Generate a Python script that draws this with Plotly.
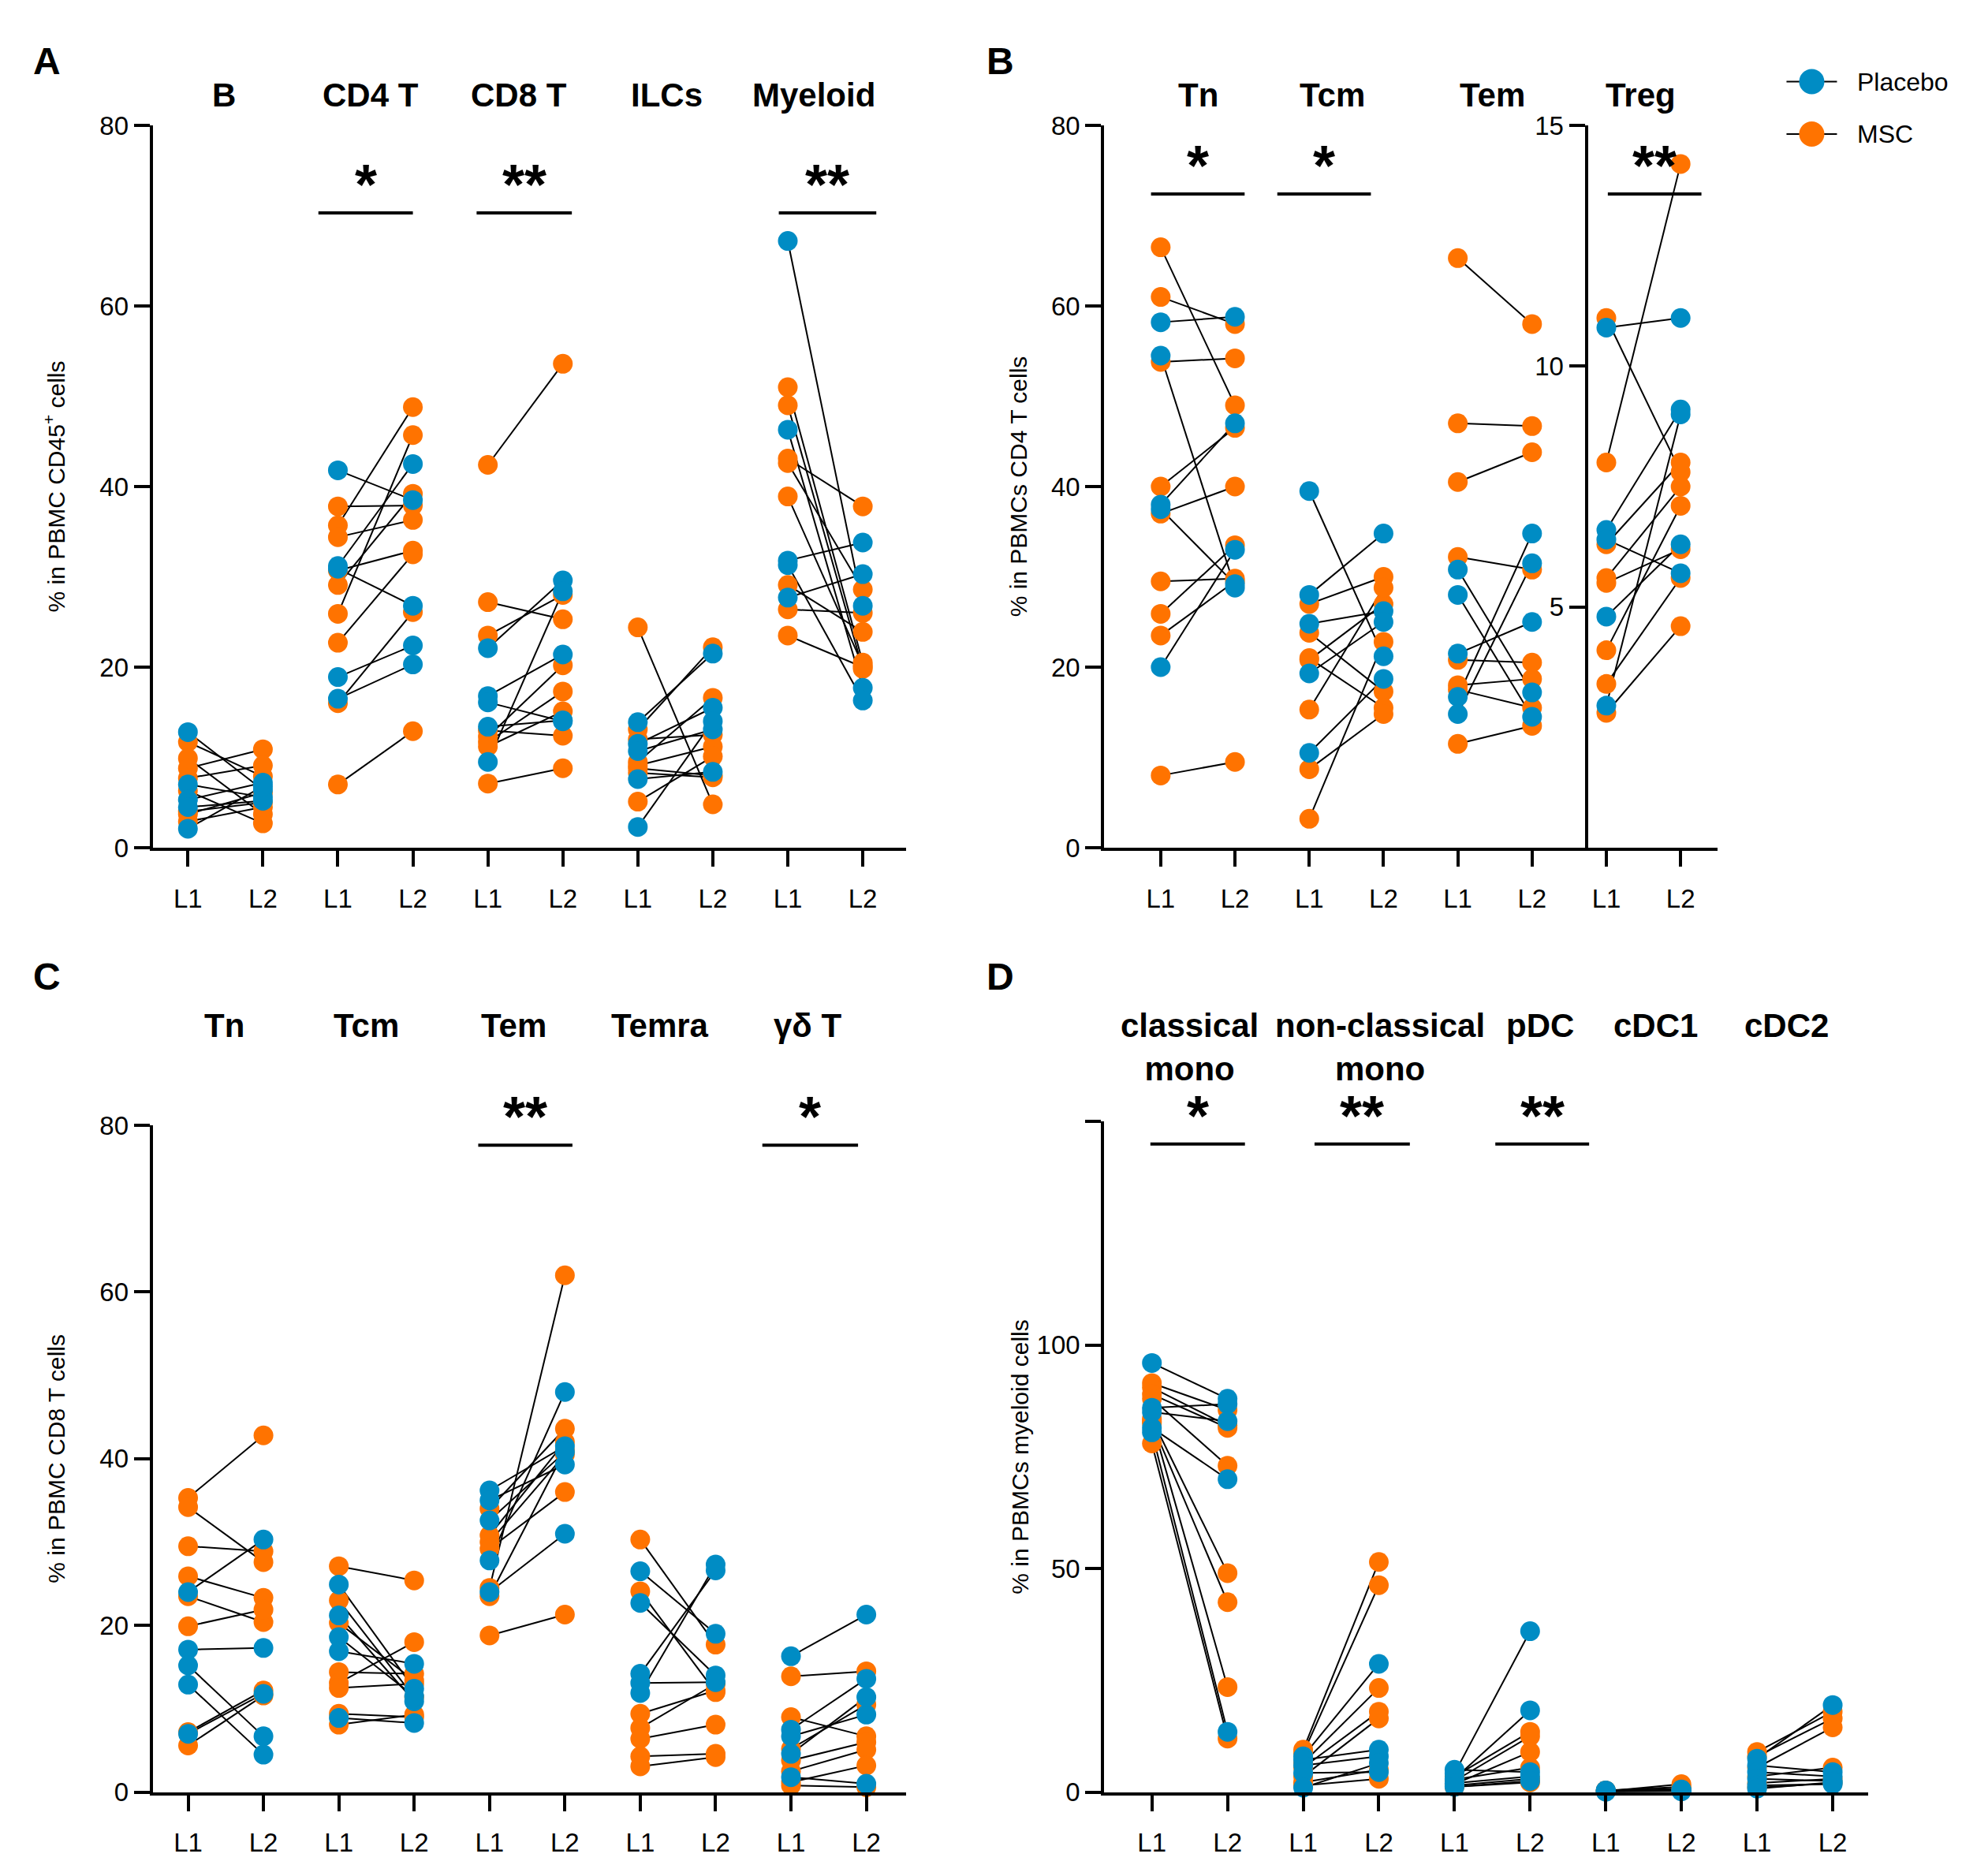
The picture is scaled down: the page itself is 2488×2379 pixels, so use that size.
import plotly.graph_objects as go

# ---------------- data ----------------
# one inner list per cell population, L1[i] is paired with L2[i]

# A: % in PBMC CD45+ cells
A_GROUPS = ["B", "CD4 T", "CD8 T", "ILCs", "Myeloid"]
A_PLA_L1 = [[12.8, 7.0, 5.3, 4.5, 2.1],
            [41.8, 31.2, 30.9, 18.9, 16.5],
            [22.1, 16.8, 16.1, 13.4, 9.5],
            [13.9, 11.5, 10.7, 7.6, 2.3],
            [67.2, 46.3, 31.8, 31.3, 27.7]]
A_PLA_L2 = [[6.4, 5.6, 7.2, 5.2, 6.8],
            [38.5, 42.5, 26.8, 22.4, 20.3],
            [29.6, 21.4, 14.0, 14.1, 28.4],
            [21.5, 15.5, 13.1, 8.4, 14.0],
            [26.8, 17.7, 33.8, 16.3, 30.3]]
A_MSC_L1 = [[11.7, 9.9, 8.8, 7.7, 6.3, 4.0, 3.7, 2.9],
            [37.8, 35.7, 34.4, 30.7, 29.1, 25.9, 22.7, 16.0, 7.0],
            [42.4, 27.2, 23.5, 13.0, 12.3, 11.7, 11.2, 7.1],
            [24.4, 13.1, 12.0, 9.5, 9.1, 8.8, 8.3, 5.1],
            [51.0, 49.0, 43.1, 42.6, 38.9, 29.1, 26.4, 23.5]]
A_MSC_L2 = [[7.9, 3.7, 10.9, 9.1, 2.7, 5.0, 6.1, 4.5],
            [37.9, 48.8, 36.3, 32.9, 39.2, 45.7, 32.5, 26.1, 12.9],
            [53.6, 25.3, 28.0, 12.4, 20.2, 17.3, 15.1, 8.8],
            [4.8, 22.2, 12.5, 16.6, 11.2, 8.0, 7.8, 10.1],
            [20.5, 19.8, 37.8, 28.6, 20.2, 23.9, 26.0, 20.0]]

# B: % in PBMCs CD4 T cells (Treg on its own 0-15 axis)
B_GROUPS = ["Tn", "Tcm", "Tem", "Treg"]
B_PLA_L1 = [[58.2, 54.5, 38.0, 37.5, 20.0],
            [39.5, 28.0, 24.8, 19.3, 10.5],
            [30.8, 28.0, 21.5, 16.7, 14.8],
            [10.8, 6.6, 6.4, 4.8, 2.95]]
B_PLA_L2 = [[58.8, 28.8, 47.0, 29.2, 33.0],
            [21.2, 34.8, 26.2, 25.0, 18.7],
            [17.2, 14.5, 25.0, 34.8, 31.5],
            [11.0, 9.1, 5.7, 6.3, 9.0]]
B_MSC_L1 = [[66.5, 61.0, 53.8, 40.0, 37.0, 29.5, 25.9, 23.5, 8.0],
            [27.0, 23.8, 21.0, 20.8, 15.3, 8.7, 3.2],
            [65.3, 47.0, 40.5, 32.2, 20.8, 18.0, 17.5, 11.5],
            [11.0, 8.0, 6.3, 5.6, 5.5, 4.1, 3.4, 2.8]]
B_MSC_L2 = [[49.0, 58.0, 54.2, 46.5, 40.0, 29.8, 33.5, 29.5, 9.5],
            [30.0, 17.3, 15.5, 27.0, 28.8, 14.8, 22.8],
            [58.0, 46.7, 43.8, 30.8, 20.5, 18.7, 15.5, 13.5],
            [7.8, 14.2, 8.0, 7.5, 6.2, 7.1, 5.6, 4.6]]

# C: % in PBMC CD8 T cells
C_GROUPS = ["Tn", "Tcm", "Tem", "Temra", "γδ T"]
C_PLA_L1 = [[24.0, 17.1, 15.2, 12.9, 7.0],
            [24.9, 21.2, 18.6, 16.9, 8.9],
            [36.2, 35.0, 32.6, 27.8, 24.0],
            [26.5, 22.7, 14.2, 13.1, 11.9],
            [16.3, 7.5, 6.7, 4.6, 1.8]]
C_PLA_L2 = [[30.3, 17.3, 6.7, 4.5, 11.8],
            [12.4, 10.9, 11.5, 15.4, 8.3],
            [41.5, 39.3, 40.8, 48.0, 31.0],
            [19.0, 14.0, 26.6, 13.2, 27.3],
            [21.3, 13.6, 9.3, 11.4, 1.0]]
C_MSC_L1 = [[35.3, 34.2, 29.5, 25.9, 23.5, 19.9, 7.2, 5.6],
            [27.1, 23.0, 20.3, 14.4, 13.1, 12.5, 9.4, 8.1],
            [34.0, 30.8, 30.0, 29.2, 24.5, 23.5, 18.8],
            [30.3, 24.1, 9.4, 7.7, 6.4, 4.3, 3.1],
            [13.9, 9.0, 5.2, 3.8, 2.5, 1.2, 0.8]]
C_MSC_L2 = [[42.8, 27.6, 28.9, 23.3, 20.4, 21.9, 12.2, 11.6],
            [25.4, 11.4, 13.4, 14.2, 18.0, 13.0, 9.0, 9.3],
            [43.6, 42.0, 40.5, 36.0, 62.0, 41.0, 21.3],
            [17.7, 12.0, 12.2, 13.0, 8.1, 4.6, 4.2],
            [14.5, 6.7, 10.5, 6.0, 5.1, 3.2, 0.6]]

# D: % in PBMCs myeloid cells
D_GROUPS = ["classical<br>mono", "non-classical<br>mono", "pDC", "cDC1", "cDC2"]
D_PLA_L1 = [[96.0, 86.0, 85.0, 81.5, 80.5],
            [8.0, 7.2, 6.0, 4.3, 1.0],
            [5.0, 4.2, 3.0, 2.0, 1.2],
            [0.3, 0.2, 0.4, 0.1, 0.3],
            [7.5, 6.0, 4.5, 3.0, 1.5, 0.8]]
D_PLA_L2 = [[88.0, 86.8, 83.0, 70.0, 13.5],
            [28.7, 9.5, 8.0, 4.5, 6.5],
            [4.5, 36.0, 18.3, 3.5, 2.5],
            [0.5, 0.3, 0.6, 0.2, 0.4],
            [19.5, 4.5, 3.5, 2.5, 1.8, 2.2]]
D_MSC_L1 = [[91.5, 90.5, 89.0, 88.0, 83.5, 82.5, 83.0, 78.0],
            [9.5, 8.7, 6.5, 5.5, 3.5, 2.2, 1.5],
            [3.5, 2.8, 2.5, 1.8, 1.5, 1.2],
            [0.2, 0.4, 0.3, 0.2],
            [9.0, 8.0, 5.5, 3.5, 2.0, 1.0]]
D_MSC_L2 = [[85.5, 82.0, 81.5, 73.0, 49.0, 42.5, 23.5, 12.0],
            [51.5, 46.3, 23.3, 18.0, 16.5, 5.0, 3.0],
            [13.5, 5.5, 12.5, 9.0, 3.0, 2.2],
            [1.8, 1.2, 0.8, 0.5],
            [18.0, 16.5, 14.5, 5.5, 3.0, 2.0]]

# significance: (first group index, stars)
A_SIG = [(1, "*"), (2, "**"), (4, "**")]
B_SIG = [(0, "*"), (1, "*"), (3, "**")]
C_SIG = [(2, "**"), (4, "*")]
D_SIG = [(0, "*"), (1, "**"), (2, "**")]

TIMEPOINTS = ["L1", "L2"]
SERIES = ["Placebo", "MSC"]

# ---------------- style ----------------
BLUE = "#008CC4"
ORANGE = "#FF7300"
FONT = "Arial, Liberation Sans, sans-serif"

fig = go.Figure()


def add_pairs(pla1, pla2, msc1, msc2, xa, ya, ya_last=None):
    n = len(pla1)
    for g in range(n):
        yy = ya_last if (ya_last and g == n - 1) else ya
        lx, ly = [], []
        for a, b in zip(pla1[g] + msc1[g], pla2[g] + msc2[g]):
            lx += [2 * g, 2 * g + 1, None]
            ly += [a, b, None]
        fig.add_trace(go.Scatter(x=lx, y=ly, mode="lines", xaxis=xa, yaxis=yy,
                                 line=dict(color="black", width=2),
                                 showlegend=False, hoverinfo="skip"))
        for l1, l2, col, nm in [(msc1[g], msc2[g], ORANGE, SERIES[1]),
                                (pla1[g], pla2[g], BLUE, SERIES[0])]:
            fig.add_trace(go.Scatter(
                x=[2 * g] * len(l1) + [2 * g + 1] * len(l2), y=l1 + l2,
                mode="markers", xaxis=xa, yaxis=yy, cliponaxis=False, name=nm,
                marker=dict(color=col, size=25, line=dict(width=0)),
                showlegend=False))


add_pairs(A_PLA_L1, A_PLA_L2, A_MSC_L1, A_MSC_L2, "x", "y")
add_pairs(B_PLA_L1, B_PLA_L2, B_MSC_L1, B_MSC_L2, "x2", "y2", ya_last="y5")
add_pairs(C_PLA_L1, C_PLA_L2, C_MSC_L1, C_MSC_L2, "x3", "y3")
add_pairs(D_PLA_L1, D_PLA_L2, D_MSC_L1, D_MSC_L2, "x4", "y4")


def xax(domain, rng, n, anchor):
    return dict(domain=domain, range=rng, anchor=anchor,
                tickvals=list(range(2 * n)), ticktext=TIMEPOINTS * n,
                showline=True, linecolor="black", linewidth=4,
                ticks="outside", ticklen=20, tickwidth=4, tickcolor="black",
                ticklabelstandoff=12,
                tickfont=dict(size=33, color="black", family=FONT),
                showgrid=False, zeroline=False, fixedrange=True)


def yax(domain, rng, tickvals, title, anchor, standoff):
    return dict(domain=domain, range=rng, anchor=anchor, tickvals=tickvals,
                showline=True, linecolor="black", linewidth=4,
                ticks="outside", ticklen=20, tickwidth=4, tickcolor="black",
                tickfont=dict(size=33, color="black", family=FONT),
                title=dict(text=title, standoff=standoff,
                           font=dict(size=30, color="black", family=FONT)),
                showgrid=False, zeroline=False)


TOP = [0.5521, 0.9432]
BOT = [0.0407, 0.4018]
LEFT = [0.0746, 0.4587]
RIGHT = [0.5596, 0.8723]

ymyelo = yax([0.0407, 0.4038], [0, 150], [0, 50, 100],
             "% in PBMCs myeloid cells", "x4", 2)
ymyelo["minor"] = dict(tickvals=[150], ticks="outside", ticklen=20,
                       tickwidth=4, tickcolor="black", showgrid=False)

fig.update_layout(
    width=2488, height=2379,
    margin=dict(l=0, r=0, t=0, b=0),
    plot_bgcolor="white", paper_bgcolor="white",
    font=dict(family=FONT, color="black"),
    showlegend=False,
    xaxis=xax(LEFT, [-0.47, 9.58], 5, "y"),
    yaxis=yax(TOP, [0, 80], [0, 20, 40, 60, 80],
              "% in PBMC CD45<sup>+</sup> cells", "x", 36),
    xaxis2=xax(RIGHT, [-0.76, 7.5], 4, "y2"),
    yaxis2=yax(TOP, [0, 80], [0, 20, 40, 60, 80],
               "% in PBMCs CD4 T cells", "x2", 22),
    xaxis3=xax(LEFT, [-0.47, 9.53], 5, "y3"),
    yaxis3=yax(BOT, [0, 80], [0, 20, 40, 60, 80],
               "% in PBMC CD8 T cells", "x3", 36),
    xaxis4=xax([0.5596, 0.949], [-0.63, 9.47], 5, "y4"),
    yaxis4=ymyelo,
    yaxis5=dict(overlaying="y2", anchor="free", position=0.8053, range=[0, 15],
                tickvals=[5, 10, 15], showline=True, linecolor="black",
                linewidth=4, ticks="outside", ticklen=20, tickwidth=4,
                tickcolor="black", showgrid=False, zeroline=False,
                tickfont=dict(size=33, color="black", family=FONT)),
)

# legend (drawn by hand so the symbols keep the size of the data dots)
for name, col, ly in [(SERIES[0], BLUE, 0.9669), (SERIES[1], ORANGE, 0.9385)]:
    fig.add_shape(type="line", xref="paper", yref="paper",
                  xsizemode="pixel", ysizemode="pixel",
                  xanchor=0.9202, yanchor=ly, x0=-32, x1=32, y0=0, y1=0,
                  line=dict(color="black", width=2))
    fig.add_shape(type="circle", xref="paper", yref="paper",
                  xsizemode="pixel", ysizemode="pixel",
                  xanchor=0.9202, yanchor=ly, x0=-16, x1=16, y0=-16, y1=16,
                  fillcolor=col, line=dict(width=0))
    fig.add_annotation(x=0.9425, y=ly, xref="paper", yref="paper", text=name,
                       showarrow=False, xanchor="left", yanchor="middle",
                       font=dict(size=32, color="black", family=FONT))

# group titles
for groups, xa, ypos, offs in [
        (A_GROUPS, "x", 0.9707, [0.48, 0.44, 0.41, 0.39, 0.35]),
        (B_GROUPS, "x2", 0.9707, [0.51, 0.31, 0.47, 0.46]),
        (C_GROUPS, "x3", 0.4668, [0.48, 0.36, 0.32, 0.26, 0.22]),
        (D_GROUPS, "x4", 0.4668, [0.5, 1.02, 1.13, 0.66, 0.39])]:
    for g, name in enumerate(groups):
        fig.add_annotation(x=2 * g + offs[g], y=ypos, xref=xa, yref="paper",
                           text=name, showarrow=False, yanchor="top",
                           font=dict(size=42, weight="bold", family=FONT))

# significance bars
for sig, xa, ya, ybar, spans in [
        (A_SIG, "x", "y", 70.3, {1: (-0.26, 0.0), 2: (-0.15, 0.12), 4: (-0.12, 0.18)}),
        (B_SIG, "x2", "y2", 72.4, {0: (-0.13, 0.13), 1: (-0.43, -0.17), 3: (0.02, 0.28)}),
        (C_SIG, "x3", "y3", 77.6, {2: (-0.15, 0.1), 4: (-0.38, -0.11)}),
        (D_SIG, "x4", "y4", 145, {0: (-0.02, 0.23), 1: (0.15, 0.41), 2: (0.54, 0.78)})]:
    for g, stars in sig:
        x0 = 2 * g + spans[g][0]
        x1 = 2 * g + 1 + spans[g][1]
        fig.add_shape(type="line", xref=xa, yref=ya, x0=x0, x1=x1, y0=ybar, y1=ybar,
                      line=dict(color="black", width=4))
        fig.add_annotation(x=(x0 + x1) / 2, y=ybar, xref=xa, yref=ya, text=stars,
                           showarrow=False, yanchor="middle", yshift=36,
                           font=dict(size=72, weight="bold", family=FONT))

# panel letters
for letter, px, py in [("A", 0.0205, 0.978), ("B", 0.5068, 0.978),
                       ("C", 0.0205, 0.4824), ("D", 0.5068, 0.4824)]:
    fig.add_annotation(x=px, y=py, xref="paper", yref="paper", text=letter,
                       showarrow=False, xanchor="center", yanchor="middle",
                       font=dict(size=48, weight="bold", family=FONT))

fig.write_html("out.html")
